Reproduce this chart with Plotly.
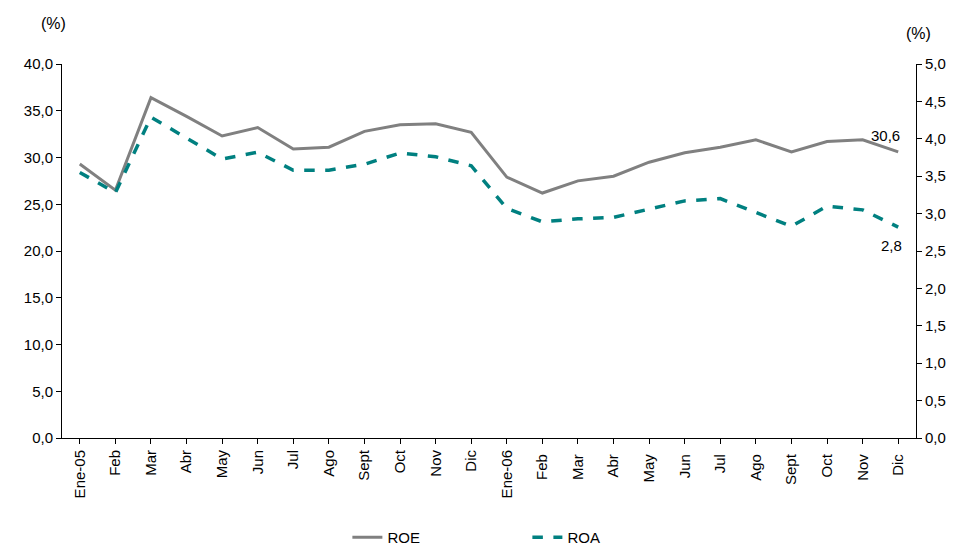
import plotly.graph_objects as go

months = ["Ene-05", "Feb", "Mar", "Abr", "May", "Jun", "Jul", "Ago", "Sept", "Oct", "Nov", "Dic",
          "Ene-06", "Feb ", "Mar ", "Abr ", "May ", "Jun ", "Jul ", "Ago ", "Sept ", "Oct ", "Nov ", "Dic "]
roe = [29.3, 26.5, 36.4, 34.4, 32.3, 33.2, 30.9, 31.1, 32.8, 33.5, 33.6, 32.7,
       27.9, 26.2, 27.5, 28.0, 29.5, 30.5, 31.1, 31.9, 30.6, 31.7, 31.9, 30.6]
roa = [3.55, 3.28, 4.29, 4.01, 3.73, 3.82, 3.58, 3.58, 3.66, 3.81, 3.76, 3.64,
       3.07, 2.89, 2.93, 2.95, 3.06, 3.17, 3.20, 3.02, 2.83, 3.10, 3.05, 2.82]

fig = go.Figure()
fig.add_trace(go.Scatter(x=months, y=roe, name="ROE", mode="lines",
                         line=dict(color="#808080", width=3)))
fig.add_trace(go.Scatter(x=months, y=roa, name="ROA", mode="lines", yaxis="y2",
                         line=dict(color="#008080", width=3.5, dash="dash")))

fig.add_annotation(x=months[-1], y=roe[-1], text="30,6", showarrow=False,
                   xanchor="right", yanchor="bottom", xshift=4, yshift=6)
fig.add_annotation(x=months[-1], y=roa[-1], yref="y2", text="2,8", showarrow=False,
                   xanchor="right", yanchor="top", xshift=6, yshift=-8)
fig.add_annotation(x=0, y=1.0, xref="paper", yref="paper", text="(%)", showarrow=False,
                   xanchor="right", yanchor="bottom", xshift=6, yshift=30, font=dict(size=16))
fig.add_annotation(x=1, y=1.0, xref="paper", yref="paper", text="(%)", showarrow=False,
                   xanchor="left", yanchor="bottom", xshift=-12, yshift=20, font=dict(size=16))

fig.update_layout(
    width=956, height=546,
    margin=dict(l=54, r=48, t=56, b=116, autoexpand=False),
    plot_bgcolor="white", paper_bgcolor="white",
    separators=",.",
    font=dict(family="Liberation Sans, Arial", size=15, color="black"),
    showlegend=True,
    legend=dict(orientation="h", x=0.355, xanchor="left", xref="container",
                y=0.0, yanchor="bottom", yref="container",
                entrywidth=135, font=dict(size=15)),
    xaxis=dict(tickangle=-90, showline=True, linecolor="black", ticks="outside",
               tickcolor="black", showgrid=False, range=[-0.5, 23.5]),
    yaxis=dict(range=[0, 40], dtick=5, tickformat=".1f", showline=True, linecolor="black",
               ticks="outside", tickcolor="black", showgrid=False),
    yaxis2=dict(range=[0, 5], dtick=0.5, tickformat=".1f", overlaying="y", side="right",
                showline=True, linecolor="black", ticks="outside", tickcolor="black",
                showgrid=False),
)

fig.write_html("out.html")
